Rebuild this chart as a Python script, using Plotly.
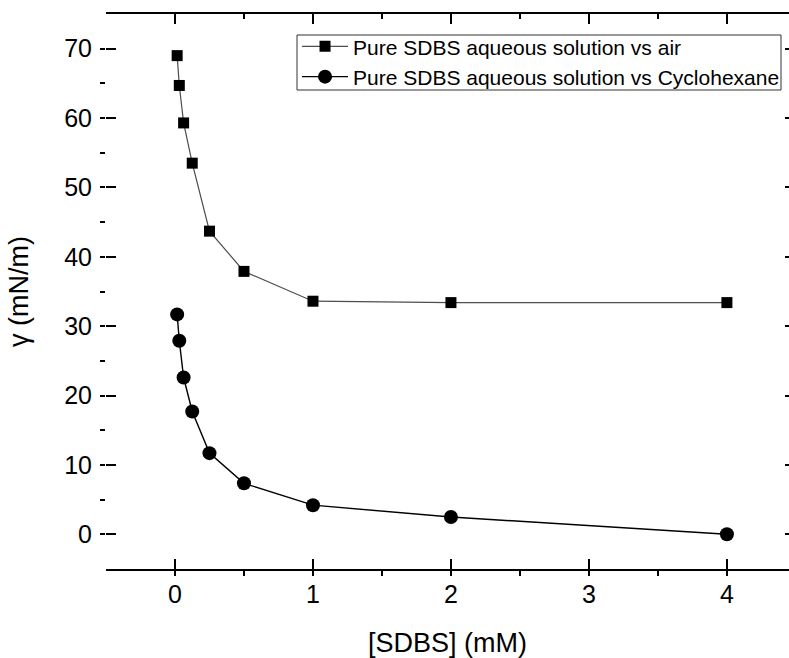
import plotly.graph_objects as go

# SDBS concentration (mM)
sdbs_mM = [0.015625, 0.03125, 0.0625, 0.125, 0.25, 0.5, 1, 2, 4]

# Interfacial tension (mN/m)
gamma_air = [69.0, 64.7, 59.3, 53.5, 43.7, 37.9, 33.6, 33.4, 33.4]
gamma_cyclohexane = [31.7, 27.9, 22.6, 17.7, 11.7, 7.35, 4.2, 2.5, 0.0]

series_names = [
    "Pure SDBS aqueous solution vs air",
    "Pure SDBS aqueous solution vs Cyclohexane",
]

FONT = "Arial, Liberation Sans, sans-serif"

fig = go.Figure()

fig.add_trace(go.Scatter(
    x=sdbs_mM, y=gamma_air, name=series_names[0],
    mode="lines+markers",
    line=dict(color="#4d4d4d", width=1.2),
    marker=dict(symbol="square", size=11, color="black"),
))
fig.add_trace(go.Scatter(
    x=sdbs_mM, y=gamma_cyclohexane, name=series_names[1],
    mode="lines+markers",
    line=dict(color="black", width=1.4),
    marker=dict(symbol="circle", size=14, color="black"),
))
# hidden copy so the top/right mirror axes get drawn
fig.add_trace(go.Scatter(
    x=sdbs_mM, y=gamma_air, xaxis="x2", yaxis="y2",
    mode="markers", marker=dict(opacity=0),
    showlegend=False, hoverinfo="skip",
))

x_range = [-0.5, 4.45]
y_range = [-5, 75]

fig.update_layout(
    width=789, height=658,
    margin=dict(l=106, r=0, t=14, b=89),
    plot_bgcolor="white", paper_bgcolor="white",
    font=dict(family=FONT, color="black"),
    showlegend=True,
    legend=dict(
        x=0.2797, y=0.978, xanchor="left", yanchor="top",
        bgcolor="rgba(0,0,0,0)", borderwidth=0,
        font=dict(size=21, family=FONT, color="black"),
        itemwidth=46, tracegroupgap=0,
    ),
    shapes=[dict(
        type="rect", xref="paper", yref="paper",
        x0=(297 - 106) / 683, x1=(781 - 106) / 683,
        y0=(569 - 90) / 555, y1=(569 - 35) / 555,
        line=dict(color="#333333", width=1), fillcolor="white",
        layer="above",
    )],
    xaxis=dict(
        range=x_range, tick0=0, dtick=1,
        showline=True, linecolor="black", linewidth=2,
        ticks="inside", ticklen=10, tickwidth=2, tickcolor="black",
        minor=dict(ticks="outside", ticklen=5, tickwidth=2,
                   tickcolor="black", tick0=0, dtick=0.5),
        tickfont=dict(size=25, family=FONT),
        ticklabelstandoff=2,
        showgrid=False, zeroline=False,
        title=dict(text="[SDBS] (mM)", font=dict(size=27, family=FONT),
                   standoff=28),
    ),
    xaxis2=dict(
        range=x_range, overlaying="x", side="top", anchor="y",
        tick0=0, dtick=1,
        showline=True, linecolor="black", linewidth=2,
        ticks="inside", ticklen=10, tickwidth=2, tickcolor="black",
        minor=dict(ticks="inside", ticklen=5, tickwidth=2,
                   tickcolor="black", tick0=0, dtick=0.5),
        showticklabels=False, showgrid=False, zeroline=False,
    ),
    yaxis=dict(
        range=y_range, tick0=0, dtick=10,
        showline=False,
        ticks="inside", ticklen=10, tickwidth=2, tickcolor="black",
        minor=dict(ticks="outside", ticklen=5, tickwidth=2,
                   tickcolor="black", tick0=0, dtick=5),
        tickfont=dict(size=25, family=FONT),
        ticklabelstandoff=13,
        showgrid=False, zeroline=False,
        title=dict(text="γ (mN/m)", font=dict(size=27, family=FONT),
                   standoff=27),
    ),
    yaxis2=dict(
        range=y_range, overlaying="y", side="right", anchor="x2",
        tick0=0, dtick=10,
        showline=False,
        ticks="inside", ticklen=4, tickwidth=2, tickcolor="black",
        showticklabels=False, showgrid=False, zeroline=False,
    ),
)

fig.write_html("out.html")
